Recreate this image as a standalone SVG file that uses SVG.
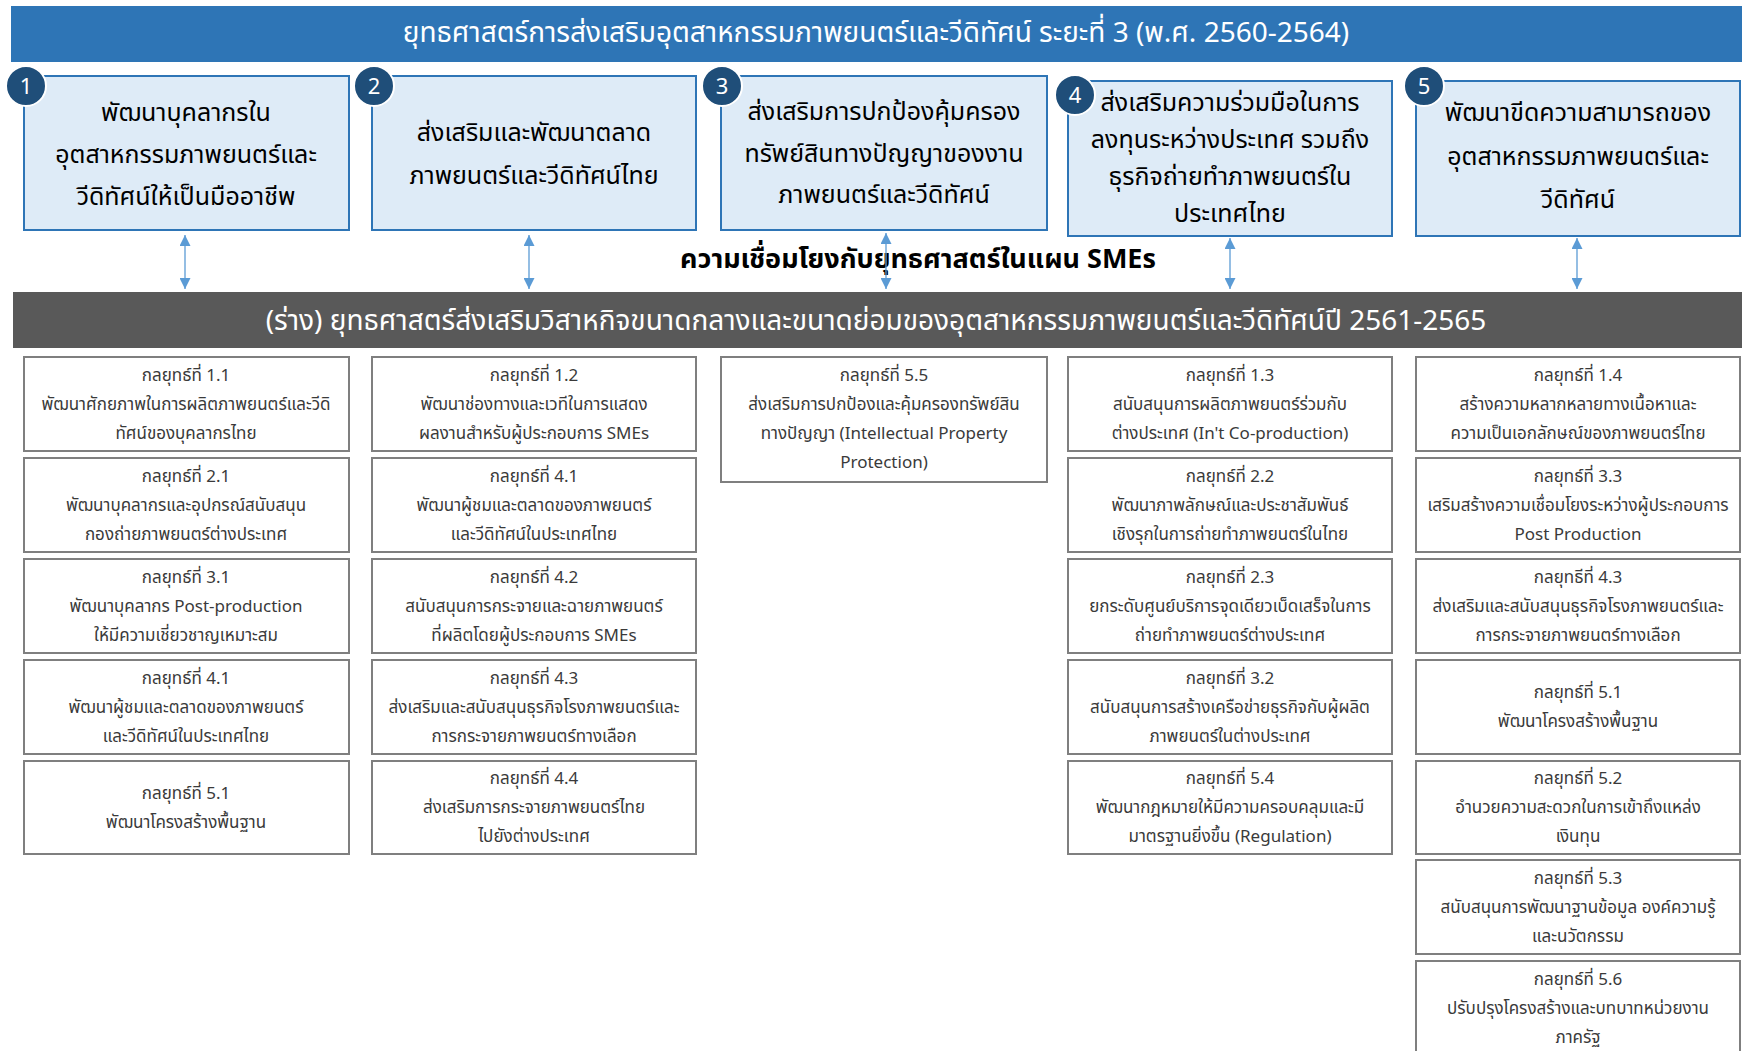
<svg xmlns="http://www.w3.org/2000/svg" width="1742" height="1051" viewBox="0 0 1742 1051">
<style>
text{font-family:"Noto Sans Thai","Noto Sans","DejaVu Sans",sans-serif;text-anchor:middle}
.ttl{font-size:28px;fill:#fff}
.big{fill:#DEEBF7;stroke:#2E75B6;stroke-width:2}
.bt{font-size:25px;fill:#000}
.num{fill:#1F4E79;stroke:#fff;stroke-width:2}
.nt{font-size:22px;fill:#fff}
.sm{fill:#fff;stroke:#7F7F7F;stroke-width:2}
.st{font-size:17px;fill:#3A3A3A}
.lk{font-size:27px;font-weight:bold;fill:#000}
.conn{stroke:#5B9BD5;stroke-width:1.3;fill:none;marker-start:url(#ah);marker-end:url(#ah)}
</style>
<defs>
<marker id="ah" viewBox="0 0 10 10" refX="10" refY="5" markerWidth="11" markerHeight="11" markerUnits="userSpaceOnUse" orient="auto-start-reverse">
<path d="M0,0 L10,5 L0,10 Z" fill="#5B9BD5"/>
</marker>
</defs>
<rect width="1742" height="1051" fill="#fff"/>

<g id="top-banner">
<rect x="11" y="6" width="1731" height="56" fill="#2E75B6"/>
<text class="ttl" x="876" y="42">ยุทธศาสตร์การส่งเสริมอุตสาหกรรมภาพยนตร์และวีดิทัศน์ ระยะที่ 3 (พ.ศ. 2560-2564)</text>
</g>

<g id="s1">
<rect class="big" x="24" y="76" width="325" height="154"/>
<text class="bt" x="186" y="121">พัฒนาบุคลากรใน</text>
<text class="bt" x="186" y="163">อุตสาหกรรมภาพยนตร์และ</text>
<text class="bt" x="186" y="205">วีดิทัศน์ให้เป็นมืออาชีพ</text>
<circle class="num" cx="26" cy="86" r="20"/><text class="nt" x="26" y="94">1</text>
</g>
<g id="s2">
<rect class="big" x="372" y="76" width="324" height="154"/>
<text class="bt" x="534" y="141">ส่งเสริมและพัฒนาตลาด</text>
<text class="bt" x="534" y="184">ภาพยนตร์และวีดิทัศน์ไทย</text>
<circle class="num" cx="374" cy="86" r="20"/><text class="nt" x="374" y="94">2</text>
</g>
<g id="s3">
<rect class="big" x="721" y="76" width="326" height="154"/>
<text class="bt" x="884" y="120">ส่งเสริมการปกป้องคุ้มครอง</text>
<text class="bt" x="884" y="162">ทรัพย์สินทางปัญญาของงาน</text>
<text class="bt" x="884" y="203">ภาพยนตร์และวีดิทัศน์</text>
<circle class="num" cx="722" cy="86" r="20"/><text class="nt" x="722" y="94">3</text>
</g>
<g id="s4">
<rect class="big" x="1068" y="81" width="324" height="155"/>
<text class="bt" x="1230" y="111">ส่งเสริมความร่วมมือในการ</text>
<text class="bt" x="1230" y="148">ลงทุนระหว่างประเทศ รวมถึง</text>
<text class="bt" x="1230" y="185">ธุรกิจถ่ายทำภาพยนตร์ใน</text>
<text class="bt" x="1230" y="222">ประเทศไทย</text>
<circle class="num" cx="1075" cy="95" r="20"/><text class="nt" x="1075" y="103">4</text>
</g>
<g id="s5">
<rect class="big" x="1416" y="81" width="324" height="155"/>
<text class="bt" x="1578" y="121">พัฒนาขีดความสามารถของ</text>
<text class="bt" x="1578" y="165">อุตสาหกรรมภาพยนตร์และ</text>
<text class="bt" x="1578" y="208">วีดิทัศน์</text>
<circle class="num" cx="1424" cy="86" r="20"/><text class="nt" x="1424" y="94">5</text>
</g>

<g id="link-label">
<text class="lk" x="918" y="268">ความเชื่อมโยงกับยุทธศาสตร์ในแผน SMEs</text>
</g>

<g id="connectors">
<line class="conn" x1="185" y1="235" x2="185" y2="289"/>
<line class="conn" x1="529" y1="235" x2="529" y2="289"/>
<line class="conn" x1="886" y1="233" x2="886" y2="289"/>
<line class="conn" x1="1230" y1="238" x2="1230" y2="289"/>
<line class="conn" x1="1577" y1="238" x2="1577" y2="289"/>
</g>

<g id="sme-banner">
<rect x="13" y="292" width="1729" height="56" fill="#595959"/>
<text class="ttl" x="876" y="330">(ร่าง) ยุทธศาสตร์ส่งเสริมวิสาหกิจขนาดกลางและขนาดย่อมของอุตสาหกรรมภาพยนตร์และวีดิทัศน์ปี 2561-2565</text>
</g>

<g id="c1-11"><rect class="sm" x="24" y="357" width="325" height="94"/>
<text class="st" x="186" y="381">กลยุทธ์ที่ 1.1</text><text class="st" x="186" y="410">พัฒนาศักยภาพในการผลิตภาพยนตร์และวีดิ</text><text class="st" x="186" y="439">ทัศน์ของบุคลากรไทย</text></g>
<g id="c1-21"><rect class="sm" x="24" y="458" width="325" height="94"/>
<text class="st" x="186" y="482">กลยุทธ์ที่ 2.1</text><text class="st" x="186" y="511">พัฒนาบุคลากรและอุปกรณ์สนับสนุน</text><text class="st" x="186" y="540">กองถ่ายภาพยนตร์ต่างประเทศ</text></g>
<g id="c1-31"><rect class="sm" x="24" y="559" width="325" height="94"/>
<text class="st" x="186" y="583">กลยุทธ์ที่ 3.1</text><text class="st" x="186" y="612">พัฒนาบุคลากร Post-production</text><text class="st" x="186" y="641">ให้มีความเชี่ยวชาญเหมาะสม</text></g>
<g id="c1-41"><rect class="sm" x="24" y="660" width="325" height="94"/>
<text class="st" x="186" y="684">กลยุทธ์ที่ 4.1</text><text class="st" x="186" y="713">พัฒนาผู้ชมและตลาดของภาพยนตร์</text><text class="st" x="186" y="742">และวีดิทัศน์ในประเทศไทย</text></g>
<g id="c1-51"><rect class="sm" x="24" y="761" width="325" height="93"/>
<text class="st" x="186" y="799">กลยุทธ์ที่ 5.1</text><text class="st" x="186" y="828">พัฒนาโครงสร้างพื้นฐาน</text></g>

<g id="c2-12"><rect class="sm" x="372" y="357" width="324" height="94"/>
<text class="st" x="534" y="381">กลยุทธ์ที่ 1.2</text><text class="st" x="534" y="410">พัฒนาช่องทางและเวทีในการแสดง</text><text class="st" x="534" y="439">ผลงานสำหรับผู้ประกอบการ  SMEs</text></g>
<g id="c2-41"><rect class="sm" x="372" y="458" width="324" height="94"/>
<text class="st" x="534" y="482">กลยุทธ์ที่ 4.1</text><text class="st" x="534" y="511">พัฒนาผู้ชมและตลาดของภาพยนตร์</text><text class="st" x="534" y="540">และวีดิทัศน์ในประเทศไทย</text></g>
<g id="c2-42"><rect class="sm" x="372" y="559" width="324" height="94"/>
<text class="st" x="534" y="583">กลยุทธ์ที่ 4.2</text><text class="st" x="534" y="612">สนับสนุนการกระจายและฉายภาพยนตร์</text><text class="st" x="534" y="641">ที่ผลิตโดยผู้ประกอบการ  SMEs</text></g>
<g id="c2-43"><rect class="sm" x="372" y="660" width="324" height="94"/>
<text class="st" x="534" y="684">กลยุทธ์ที่ 4.3</text><text class="st" x="534" y="713">ส่งเสริมและสนับสนุนธุรกิจโรงภาพยนตร์และ</text><text class="st" x="534" y="742">การกระจายภาพยนตร์ทางเลือก</text></g>
<g id="c2-44"><rect class="sm" x="372" y="761" width="324" height="93"/>
<text class="st" x="534" y="784">กลยุทธ์ที่ 4.4</text><text class="st" x="534" y="813">ส่งเสริมการกระจายภาพยนตร์ไทย</text><text class="st" x="534" y="842">ไปยังต่างประเทศ</text></g>

<g id="c3-55"><rect class="sm" x="721" y="357" width="326" height="125"/>
<text class="st" x="884" y="381">กลยุทธ์ที่ 5.5</text><text class="st" x="884" y="410">ส่งเสริมการปกป้องและคุ้มครองทรัพย์สิน</text><text class="st" x="884" y="439">ทางปัญญา (Intellectual Property</text><text class="st" x="884" y="468">Protection)</text></g>

<g id="c4-13"><rect class="sm" x="1068" y="357" width="324" height="94"/>
<text class="st" x="1230" y="381">กลยุทธ์ที่ 1.3</text><text class="st" x="1230" y="410">สนับสนุนการผลิตภาพยนตร์ร่วมกับ</text><text class="st" x="1230" y="439">ต่างประเทศ (In't Co-production)</text></g>
<g id="c4-22"><rect class="sm" x="1068" y="458" width="324" height="94"/>
<text class="st" x="1230" y="482">กลยุทธ์ที่ 2.2</text><text class="st" x="1230" y="511">พัฒนาภาพลักษณ์และประชาสัมพันธ์</text><text class="st" x="1230" y="540">เชิงรุกในการถ่ายทำภาพยนตร์ในไทย</text></g>
<g id="c4-23"><rect class="sm" x="1068" y="559" width="324" height="94"/>
<text class="st" x="1230" y="583">กลยุทธ์ที่ 2.3</text><text class="st" x="1230" y="612">ยกระดับศูนย์บริการจุดเดียวเบ็ดเสร็จในการ</text><text class="st" x="1230" y="641">ถ่ายทำภาพยนตร์ต่างประเทศ</text></g>
<g id="c4-32"><rect class="sm" x="1068" y="660" width="324" height="94"/>
<text class="st" x="1230" y="684">กลยุทธ์ที่ 3.2</text><text class="st" x="1230" y="713">สนับสนุนการสร้างเครือข่ายธุรกิจกับผู้ผลิต</text><text class="st" x="1230" y="742">ภาพยนตร์ในต่างประเทศ</text></g>
<g id="c4-54"><rect class="sm" x="1068" y="761" width="324" height="93"/>
<text class="st" x="1230" y="784">กลยุทธ์ที่ 5.4</text><text class="st" x="1230" y="813">พัฒนากฎหมายให้มีความครอบคลุมและมี</text><text class="st" x="1230" y="842">มาตรฐานยิ่งขึ้น (Regulation)</text></g>

<g id="c5-14"><rect class="sm" x="1416" y="357" width="324" height="94"/>
<text class="st" x="1578" y="381">กลยุทธ์ที่ 1.4</text><text class="st" x="1578" y="410">สร้างความหลากหลายทางเนื้อหาและ</text><text class="st" x="1578" y="439">ความเป็นเอกลักษณ์ของภาพยนตร์ไทย</text></g>
<g id="c5-33"><rect class="sm" x="1416" y="458" width="324" height="94"/>
<text class="st" x="1578" y="482">กลยุทธ์ที่ 3.3</text><text class="st" x="1578" y="511">เสริมสร้างความเชื่อมโยงระหว่างผู้ประกอบการ</text><text class="st" x="1578" y="540">Post Production</text></g>
<g id="c5-43"><rect class="sm" x="1416" y="559" width="324" height="94"/>
<text class="st" x="1578" y="583">กลยุทธีที่ 4.3</text><text class="st" x="1578" y="612">ส่งเสริมและสนับสนุนธุรกิจโรงภาพยนตร์และ</text><text class="st" x="1578" y="641">การกระจายภาพยนตร์ทางเลือก</text></g>
<g id="c5-51"><rect class="sm" x="1416" y="660" width="324" height="94"/>
<text class="st" x="1578" y="698">กลยุทธ์ที่ 5.1</text><text class="st" x="1578" y="727">พัฒนาโครงสร้างพื้นฐาน</text></g>
<g id="c5-52"><rect class="sm" x="1416" y="761" width="324" height="93"/>
<text class="st" x="1578" y="784">กลยุทธ์ที่ 5.2</text><text class="st" x="1578" y="813">อำนวยความสะดวกในการเข้าถึงแหล่ง</text><text class="st" x="1578" y="842">เงินทุน</text></g>
<g id="c5-53"><rect class="sm" x="1416" y="860" width="324" height="94"/>
<text class="st" x="1578" y="884">กลยุทธ์ที่ 5.3</text><text class="st" x="1578" y="913">สนับสนุนการพัฒนาฐานข้อมูล  องค์ความรู้</text><text class="st" x="1578" y="942">และนวัตกรรม</text></g>
<g id="c5-56"><rect class="sm" x="1416" y="961" width="324" height="95"/>
<text class="st" x="1578" y="985">กลยุทธ์ที่ 5.6</text><text class="st" x="1578" y="1014">ปรับปรุงโครงสร้างและบทบาทหน่วยงาน</text><text class="st" x="1578" y="1043">ภาครัฐ</text></g>
</svg>
